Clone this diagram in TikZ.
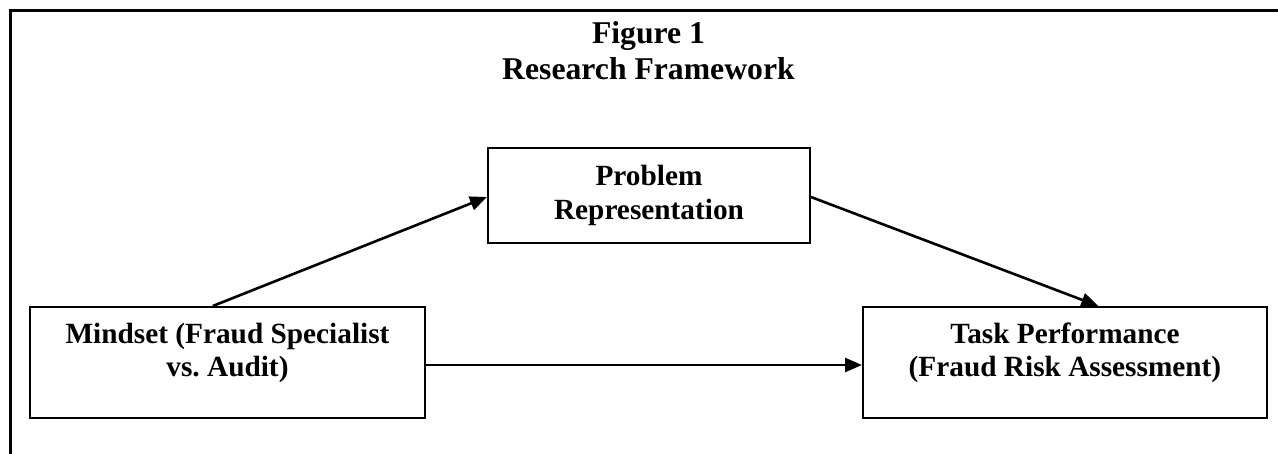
\documentclass[tikz,border=0pt]{standalone}
\usepackage{fontspec}
\setmainfont{Liberation Serif}
\usetikzlibrary{arrows.meta,calc}
\frenchspacing
\begin{document}
\begin{tikzpicture}[x=1pt,y=-1pt,
  boxnode/.style={draw=black,line width=2pt,inner sep=0pt},
  lbl/.style={align=center,inner sep=0pt,font=\fontsize{29.3}{33.3}\selectfont\bfseries},
  ttl/.style={align=center,inner sep=0pt,font=\fontsize{31.7}{36}\selectfont\bfseries},
  conn/.style={line width=2.6pt,-{Triangle[length=17pt,width=14pt]}},
  framestyle/.style={line width=3pt,line join=miter}]
\useasboundingbox (0,0) rectangle (1278,453);
% open frame
\coordinate (fbl) at (10.7,455);
\coordinate (ftl) at (10.7,10.5);
\coordinate (ftr) at (1280,10.5);
\draw[framestyle] (fbl) -- (ftl) -- (ftr);
% title
\node[ttl] (title) at (648.5,50.5) {Figure 1\\Research Framework};
% boxes
\node[boxnode,minimum width=322pt,minimum height=95pt] (prob) at (649,195.5) {};
\node[boxnode,minimum width=395pt,minimum height=111pt] (mind) at (227.5,362.5) {};
\node[boxnode,minimum width=404pt,minimum height=111pt] (task) at (1065,362.5) {};
% labels
\node[lbl] (probtxt) at (649,195.5) {Problem\\Representation};
\node[lbl] (mindtxt) at (227.5,353) {Mindset (Fraud Specialist\\vs.\ Audit)};
\node[lbl] (tasktxt) at (1065,352.6) {Task Performance\\(Fraud Risk Assessment)};
% connectors
\coordinate (m1) at ($(mind.north west)!0.463!(mind.north east)$);
\coordinate (t1) at ($(task.north west)!0.582!(task.north east)$);
\draw[conn] (m1) -- ([yshift=-1.5pt]prob.west);
\draw[conn] ([yshift=-1.5pt]prob.east) -- (t1);
\draw[conn] ([yshift=-2.5pt]mind.east) -- ([yshift=-2.5pt]task.west);
\end{tikzpicture}
\end{document}
